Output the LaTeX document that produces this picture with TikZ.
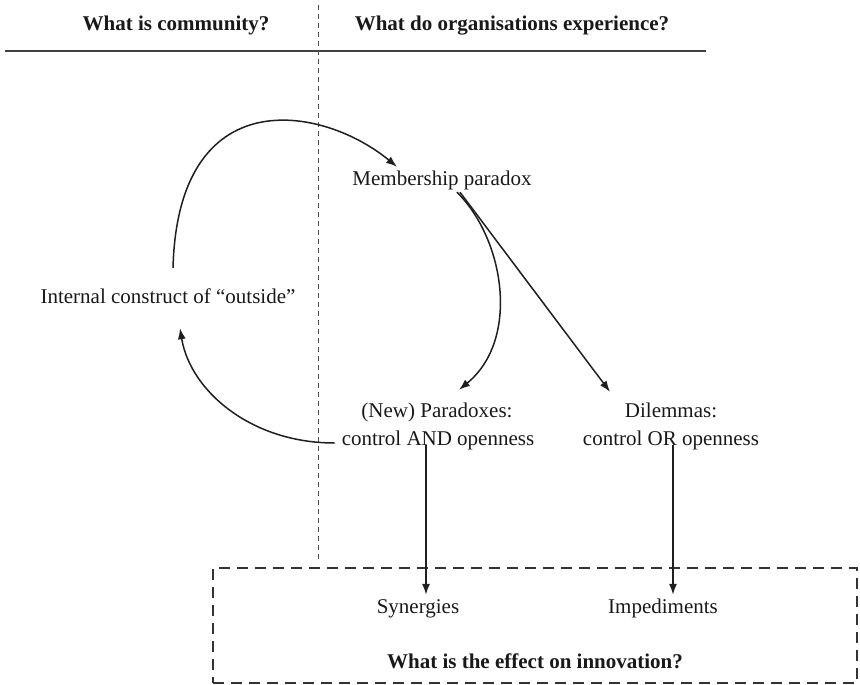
\documentclass[tikz,border=0pt]{standalone}
\usepackage{fontspec}
\setmainfont{Liberation Serif}
\usetikzlibrary{arrows.meta,calc}
\begin{document}
\begin{tikzpicture}[x=1pt,y=1pt,
  txt/.style={inner sep=0pt, text=black!90, font=\fontsize{21}{25}\selectfont, text height=14pt, text depth=4pt},
  hd/.style={txt, font=\fontsize{21}{25}\selectfont\bfseries},
  arr/.style={line width=1.5pt, draw=black!88, -{Latex[length=11pt,width=8pt]}},
  divider/.style={line width=1pt, draw=black!70, dash pattern=on 5pt off 4pt},
  rule/.style={line width=2.6pt, draw=black!75},
  effbox/.style={draw=black!80, line width=1.8pt, dash pattern=on 11pt off 7pt, inner sep=0pt}]
\useasboundingbox (0,0) rectangle (860,-685);
% headers
\node[hd] (h1) at (176,-26) {What is community?};
\node[hd] (h2) at (512,-26) {What do organisations experience?};
\coordinate (rl) at (5,-51);
\coordinate (rr) at (706,-51);
\draw[rule] (rl) -- (rr);
\coordinate (dt) at (318,-5);
\coordinate (db) at (318,-560);
\draw[divider] (dt) -- (db);
% effect box
\node[effbox, minimum width=644pt, minimum height=115pt] (box) at (535,-625.5) {};
% nodes
\node[txt] (mp) at (442,-180) {Membership paradox};
\node[txt] (ic) at (168,-298) {Internal construct of “outside”};
\node[txt] (newA) at (437,-412) {(New) Paradoxes:};
\node[txt] (newB) at (438,-440) {control AND openness};
\node[txt] (dilA) at (671,-412) {Dilemmas:};
\node[txt] (dilB) at (671,-440) {control OR openness};
\node[txt] (syn) at (418,-608) {Synergies};
\node[txt] (imp) at (663,-608) {Impediments};
\node[hd] (eff) at (535,-663) {What is the effect on innovation?};
% connectors
\draw[arr] ([shift={(5,21)}]ic.north) .. controls (178,-80) and (322,-105) .. ([shift={(-45,4)}]mp.north);
\draw[arr] ([shift={(-7,-3)}]newB.west) .. controls (250,-443) and (190,-390) .. ([shift={(12,-21)}]ic.south);
\draw[arr] ([shift={(15,-3)}]mp.south) .. controls (505,-240) and (520,-340) .. ([shift={(22,13)}]newA.north);
\draw[arr] ([shift={(18,-3)}]mp.south) -- ([shift={(-61,11)}]dilA.north);
\draw[arr] ([shift={(-12,4)}]newB.south) -- ([shift={(8,4)}]syn.north);
\draw[arr] ([shift={(2,4)}]dilB.south) -- ([shift={(10,4)}]imp.north);
\end{tikzpicture}
\end{document}
